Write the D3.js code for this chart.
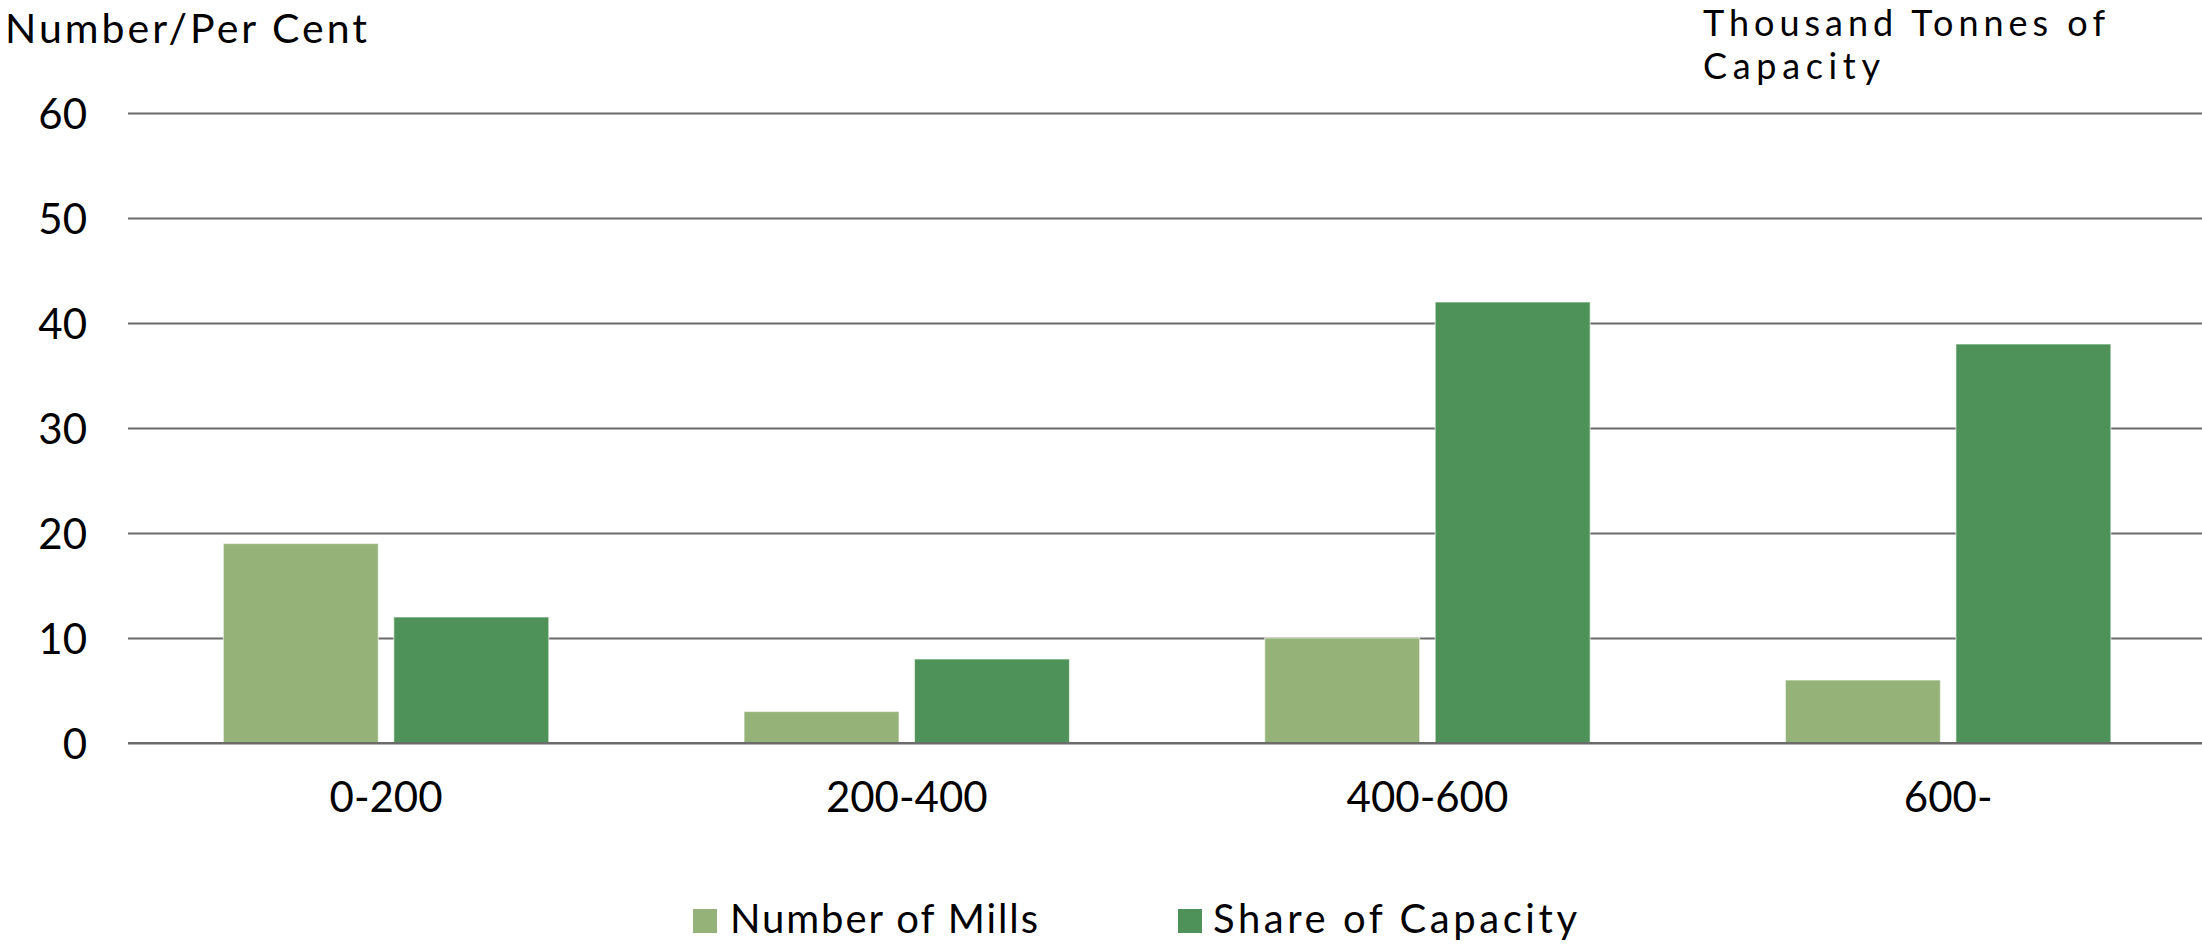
<!DOCTYPE html>
<html>
<head>
<meta charset="utf-8">
<script src="https://cdn.jsdelivr.net/npm/d3@7"></script>
<style>
  html, body { margin: 0; padding: 0; background: #ffffff; }
  svg { display: block; }
</style>
</head>
<body>
<svg id="chart" width="2202" height="945"></svg>
<script>
// ---- Data ----
const categories = ["0-200", "200-400", "400-600", "600-"];
const numberOfMills = [19, 3, 10, 6];
const shareOfCapacity = [12, 8, 42, 38];
const seriesNames = ["Number of Mills", "Share of Capacity"];
const yTicks = [0, 10, 20, 30, 40, 50, 60];
const leftTitle = "Number/Per Cent";
const rightTitle = ["Thousand Tonnes of", "Capacity"];

// ---- Styles ----
const FONT = "Lato, 'Open Sans', sans-serif";
const colors = ["#95b378", "#4e9259"];
const gridColor = "#6b6b6b";

const svg = d3.select("#chart");
const plotLeft = 128, plotRight = 2202;
const y = d3.scaleLinear().domain([0, 60]).range([743, 113]);
const x0 = d3.scaleBand().domain(categories).range([125.7, 2208.5])
  .paddingInner(0.375).paddingOuter(0.1875);
const x1 = d3.scaleBand().domain(seriesNames).range([0, x0.bandwidth()])
  .paddingInner(0.0909).paddingOuter(0);
const color = d3.scaleOrdinal().domain(seriesNames).range(colors);

const rows = categories.map((c, i) => ({
  cat: c,
  values: [
    { key: seriesNames[0], value: numberOfMills[i] },
    { key: seriesNames[1], value: shareOfCapacity[i] }
  ]
}));

// ---- Y axis with gridlines ----
const yAxis = svg.append("g")
  .attr("transform", `translate(${plotLeft},0)`)
  .call(d3.axisLeft(y).tickValues(yTicks).tickSize(-(plotRight - plotLeft)).tickPadding(41));
yAxis.select(".domain").remove();
yAxis.selectAll(".tick line").attr("stroke", gridColor).attr("stroke-width", 2.2);
yAxis.selectAll(".tick text")
  .attr("font-family", FONT).attr("font-size", 42).attr("fill", "#000")
  .attr("dy", "0.36em");

// ---- Bars ----
const groups = svg.append("g").selectAll("g")
  .data(rows).join("g")
  .attr("transform", d => `translate(${x0(d.cat)},0)`);
groups.selectAll("rect")
  .data(d => d.values).join("rect")
  .attr("x", d => x1(d.key))
  .attr("width", x1.bandwidth())
  .attr("y", d => y(d.value))
  .attr("height", d => y(0) - y(d.value))
  .attr("fill", d => color(d.key))
  .attr("stroke", "rgba(255,255,255,0.55)")
  .attr("stroke-width", 1.2);

// ---- Baseline (drawn over bars) ----
svg.append("line")
  .attr("x1", plotLeft).attr("x2", plotRight)
  .attr("y1", y(0)).attr("y2", y(0))
  .attr("stroke", gridColor).attr("stroke-width", 2.2);

// ---- X axis labels ----
const xAxis = svg.append("g")
  .attr("transform", `translate(0,${y(0)})`)
  .call(d3.axisBottom(x0).tickSize(0).tickPadding(39));
xAxis.select(".domain").remove();
xAxis.selectAll(".tick text")
  .attr("font-family", FONT).attr("font-size", 42).attr("fill", "#000");

// ---- Titles ----
svg.append("text")
  .attr("x", 5).attr("y", 43)
  .attr("font-family", FONT).attr("font-size", 41).attr("fill", "#000")
  .attr("textLength", 362).attr("lengthAdjust", "spacing")
  .text(leftTitle);

svg.append("text")
  .attr("x", 1703).attr("y", 36)
  .attr("font-family", FONT).attr("font-size", 36).attr("fill", "#000")
  .attr("textLength", 402).attr("lengthAdjust", "spacing")
  .text(rightTitle[0]);
svg.append("text")
  .attr("x", 1703).attr("y", 79)
  .attr("font-family", FONT).attr("font-size", 36).attr("fill", "#000")
  .attr("textLength", 177).attr("lengthAdjust", "spacing")
  .text(rightTitle[1]);

// ---- Legend ----
const legendItems = [
  { name: seriesNames[0], sx: 693, tx: 730, tw: 308 },
  { name: seriesNames[1], sx: 1178, tx: 1213, tw: 364 }
];
const lg = svg.append("g").selectAll("g").data(legendItems).join("g");
lg.append("rect")
  .attr("x", d => d.sx).attr("y", 909)
  .attr("width", 24).attr("height", 24)
  .attr("fill", d => color(d.name));
lg.append("text")
  .attr("x", d => d.tx).attr("y", 933)
  .attr("font-family", FONT).attr("font-size", 40).attr("fill", "#000")
  .attr("textLength", d => d.tw).attr("lengthAdjust", "spacing")
  .text(d => d.name);
</script>
</body>
</html>
